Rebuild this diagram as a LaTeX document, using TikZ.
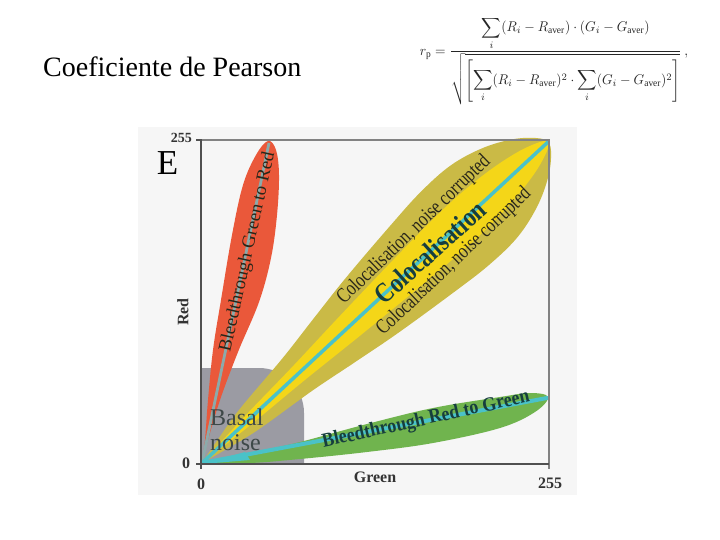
\documentclass[tikz,border=0pt]{standalone}
\usepackage{fontspec}
\setmainfont{Liberation Serif}
\usepackage{amsmath}
\definecolor{redlobe}{RGB}{234,88,58}
\definecolor{olivelobe}{RGB}{202,186,70}
\definecolor{yellowlobe}{RGB}{244,214,24}
\definecolor{cyanline}{RGB}{74,194,200}
\definecolor{greenlobe}{RGB}{112,180,78}
\definecolor{basalgrey}{RGB}{155,155,163}
\definecolor{figbg}{RGB}{246,246,246}
\definecolor{axisdark}{RGB}{80,80,80}
\definecolor{axislight}{RGB}{130,130,130}
\definecolor{redaxis}{RGB}{140,170,170}
\definecolor{lobetext}{RGB}{40,38,25}
\definecolor{greentext}{RGB}{22,62,62}
\definecolor{basaltext}{RGB}{62,72,72}
\tikzset{
  axislbl/.style={font=\fontsize{16}{16}\selectfont\bfseries, text=black!80, inner sep=0pt},
  lobelbl/.style={inner sep=0pt, text=lobetext},
}
\begin{document}
\begin{tikzpicture}[x=1pt,y=-1pt]
\useasboundingbox (0,0) rectangle (720,540);
% title
\node[anchor=base west, inner sep=0pt, font=\fontsize{28}{32}\selectfont] (title) at (43,77) {Coeficiente de Pearson};
% formula
\node[inner sep=0pt, text=black!85] (formula) at (554,61) {\resizebox*{268pt}{88pt}{$\displaystyle r_{\mathrm{p}} = \frac{\displaystyle\sum_i (R_i - R_{\mathrm{aver}})\cdot(G_i - G_{\mathrm{aver}})}{\displaystyle\sqrt{\left[\sum_i (R_i - R_{\mathrm{aver}})^2\cdot \sum_i (G_i - G_{\mathrm{aver}})^2\right]}}\,,$}};
% figure background
\fill[figbg] (138,127) rectangle (577,495);
\coordinate (O) at (202,463);
% basal noise
\fill[basalgrey] (201,464) -- (201,368) -- (259,368) .. controls (284,368) and (304,388) .. (304,413) -- (304,464) -- cycle;
% red lobe
\fill[redlobe] plot[smooth cycle, tension=0.6] coordinates {(202,462) (205,440) (208,400) (213,350) (221,300) (232,235) (243,185) (256,155) (268,141) (276,150) (279,175) (277,215) (271,258) (259,302) (238,352) (220,400) (208,440)};
\coordinate (redtip) at (269,143);
\draw[redaxis, line width=2.8] (O) -- (redtip);
% yellow lobe
\begin{scope}[shift={(202,463)}, rotate=42.85]
\fill[olivelobe] plot[smooth, tension=0.6] coordinates {(0,0) (30,7) (65,14) (130,22) (180,30) (232,38) (300,46) (345,50) (385,49) (420,40) (448,26) (466,11) (472,0) (466,-11) (448,-26) (420,-40) (385,-49) (345,-50) (300,-46) (232,-38) (180,-30) (130,-22) (65,-14) (30,-7) (0,0)} -- cycle;
\fill[yellowlobe] plot[smooth, tension=0.6] coordinates {(0,0) (60,5) (130,9) (200,14) (280,19) (350,22) (400,20) (440,14) (465,6) (472,0) (465,-6) (440,-14) (400,-20) (350,-22) (280,-19) (200,-14) (130,-9) (60,-5) (0,0)} -- cycle;
\end{scope}
\coordinate (diagtip) at (548,142);
\draw[cyanline, line width=3.5, line cap=round] (O) -- (diagtip);
% green lobe
\fill[greenlobe] plot[smooth cycle, tension=0.6] coordinates {(203,463) (250,453) (300,442) (367,424) (433,408) (500,397) (530,393) (548,397) (535,412) (500,428) (433,443) (367,452) (300,459) (250,463)};
\coordinate (greentip) at (547,398);
\draw[cyanline, line width=4, line cap=round] (O) -- (greentip);
\fill[cyanline] (202,464) -- (245,452) -- (250,460) -- cycle;
% lobe labels
\node[lobelbl, rotate=77.5, font=\fontsize{18.5}{18.5}\selectfont] (bgr) at (248,252) {Bleedthrough Green to Red};
\node[lobelbl, rotate=44, font=\fontsize{21}{21}\selectfont] (cnc1) at (414,230) {\scalebox{0.78}[1]{Colocalisation, noise corrupted}};
\node[lobelbl, rotate=43.5, font=\fontsize{21}{21}\selectfont] (cnc2) at (454,262) {\scalebox{0.78}[1]{Colocalisation, noise corrupted}};
\node[lobelbl, rotate=42, text=greentext, font=\fontsize{28}{28}\selectfont\bfseries] (coloc) at (430,252) {\scalebox{0.82}[1]{Colocalisation}};
\node[lobelbl, rotate=12.5, text=greentext, font=\fontsize{20}{20}\selectfont\bfseries] (brg) at (426,420) {\scalebox{0.9}[1]{Bleedthrough Red to Green}};
\node[anchor=base west, inner sep=0pt, text=basaltext, font=\fontsize{24}{25}\selectfont] (basal) at (210,425) {Basal};
\node[anchor=base west, inner sep=0pt, text=basaltext, font=\fontsize{24}{25}\selectfont] (noise) at (210,450) {noise};
% axes
\draw[axislight, line width=1.2] (201,140) -- (549,140) -- (549,469);
\draw[axisdark, line width=1.6] (196,140) -- (201,140) -- (201,469);
\draw[axisdark, line width=1.6] (196,464) -- (549,464);
% axis labels
\node[axislbl, anchor=east, font=\fontsize{14}{14}\selectfont\bfseries] (t255) at (192,138) {255};
\node[axislbl] (t0l) at (186,463) {0};
\node[axislbl] (t0b) at (201,484) {0};
\node[axislbl] (t255b) at (550,483) {255};
\node[axislbl] (green) at (375,477) {Green};
\node[axislbl, rotate=90] (redl) at (183,312) {Red};
\node[inner sep=0pt, font=\fontsize{35}{35}\selectfont] (E) at (167.5,163.5) {E};
\end{tikzpicture}
\end{document}
